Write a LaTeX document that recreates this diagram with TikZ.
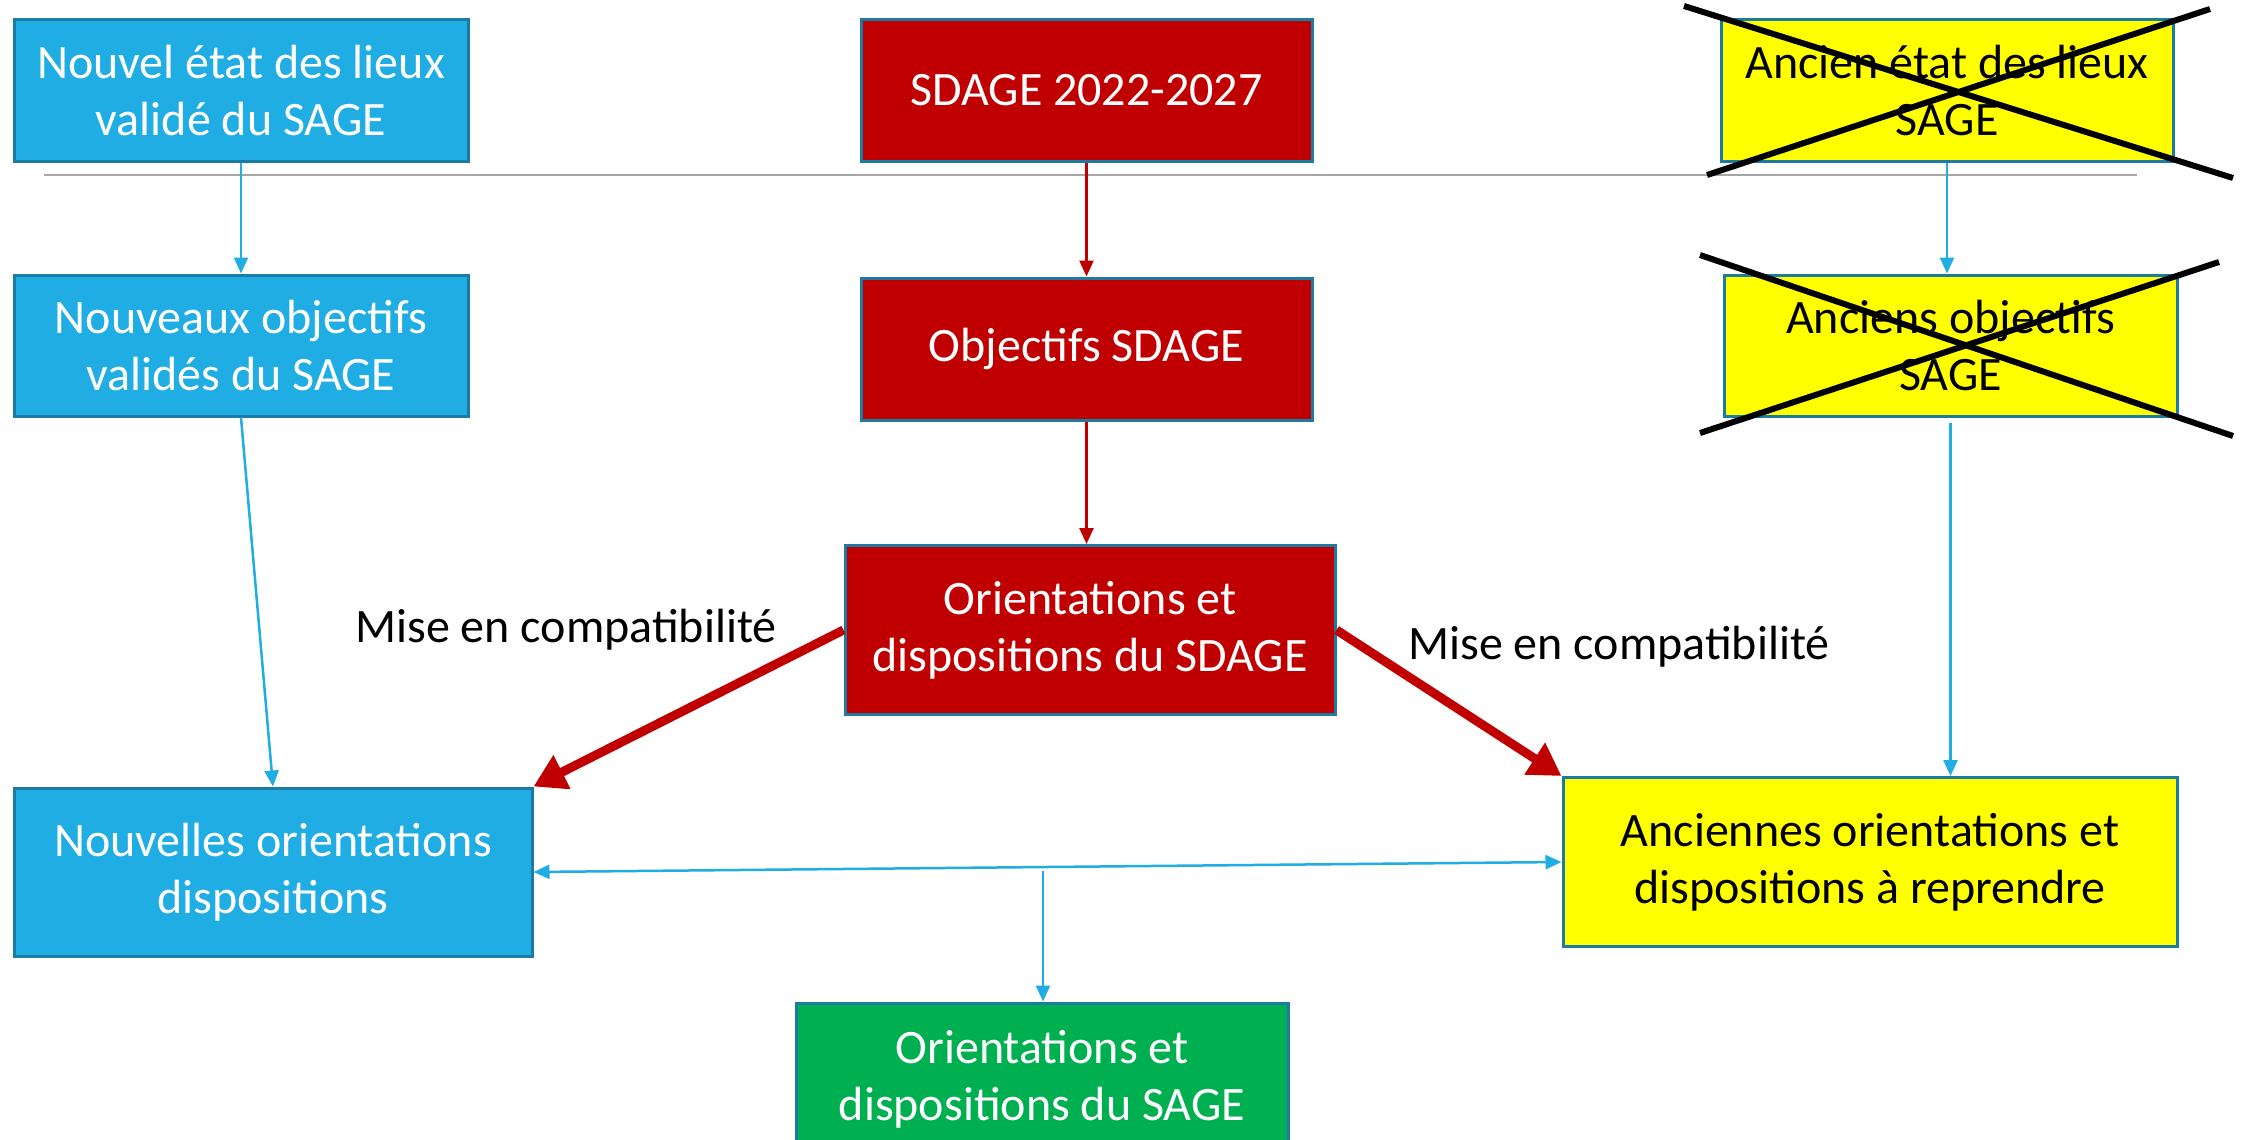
\documentclass[tikz,border=0pt]{standalone}
\usepackage{fontspec}
\setmainfont{Carlito}
\usetikzlibrary{arrows.meta,calc}
\definecolor{cblue}{HTML}{1FADE4}
\definecolor{cedge}{HTML}{1B7BA5}
\definecolor{cred}{HTML}{C00000}
\definecolor{cyel}{HTML}{FFFF00}
\definecolor{cgreen}{HTML}{00B050}
\definecolor{cgrey}{HTML}{A6A6A6}
\begin{document}
\begin{tikzpicture}[x=1pt,y=-1pt,
  box/.style={draw=cedge,line width=3pt,rectangle,inner sep=0pt,align=center,
    font=\fontsize{48}{57}\selectfont},
  bluebox/.style={box,fill=cblue,text=white},
  redbox/.style={box,fill=cred,text=white},
  yelbox/.style={box,fill=cyel,text=black},
  greenbox/.style={box,fill=cgreen,text=white},
  lbl/.style={font=\fontsize{48}{57}\selectfont,text=black,inner sep=0pt},
  thinblue/.style={draw=cblue,line width=2.5pt,-{Triangle[length=16pt,width=14pt]}},
  thinred/.style={draw=cred,line width=2.5pt,-{Triangle[length=16pt,width=14pt]}},
  thickred/.style={draw=cred,line width=9pt,-{Triangle[length=32pt,width=36pt]}},
  crossline/.style={draw=black,line width=6pt}]
\useasboundingbox (0,0) rectangle (2249,1140);
\fill[white] (0,0) rectangle (2249,1140);

% grey separator
\draw[cgrey,line width=2pt] (44,175) -- (2137,175);

% boxes
\node[bluebox,minimum width=454pt,minimum height=141pt] (n1) at (241,90.5) {Nouvel état des lieux\\validé du SAGE};
\node[redbox,minimum width=451pt,minimum height=141pt] (n2) at (1086.5,90.5) {SDAGE 2022-2027};
\node[yelbox,minimum width=452pt,minimum height=141pt] (n3) at (1947,90.5) {Ancien état des lieux\\SAGE};
\node[bluebox,minimum width=454pt,minimum height=141pt] (n5) at (241,345.5) {Nouveaux objectifs\\validés du SAGE};
\node[redbox,minimum width=451pt,minimum height=142pt] (n6) at (1086.5,349) {Objectifs SDAGE};
\node[yelbox,minimum width=453pt,minimum height=141pt] (n7) at (1950.5,345.5) {Anciens objectifs\\SAGE};
\node[redbox,minimum width=490pt,minimum height=169pt] (n8) at (1090,630) {Orientations et\\dispositions du SDAGE};
\node[bluebox,minimum width=518pt,minimum height=168pt] (n9) at (273,872) {Nouvelles orientations\\dispositions};
\node[yelbox,minimum width=614pt,minimum height=169pt] (n10) at (1870,862) {Anciennes orientations et\\dispositions à reprendre};
\node[greenbox,minimum width=492pt,minimum height=152pt] (n11) at (1042,1079) {Orientations et\\dispositions du SAGE};

% labels
\node[lbl] (l1) at (566,630) {Mise en compatibilité};
\node[lbl] (l2) at (1619,647) {Mise en compatibilité};

% crosses
\draw[crossline] (1684,6) -- (2233,178);
\draw[crossline] (1707,175) -- (2210,9);
\draw[crossline] (1700,255) -- (2233,436);
\draw[crossline] (1700,433) -- (2219,262);

% connectors
\draw[thinblue] (n1.south) -- (n5.north);
\draw[thinred] (n2.south) -- (n6.north);
\draw[thinblue] (n3.south) -- (n3.south |- n7.north);
\draw[thinred] (n6.south) -- (n6.south |- n8.north);
\draw[thinblue] (n5.south) -- (n9.north);
\draw[thinblue] ($(n7.south)+(0,5)$) -- (n7.south |- n10.north);
\draw[thickred] (n8.west) -- (n9.north east);
\draw[thickred] (n8.east) -- (n10.north west);
\draw[draw=cblue,line width=2.5pt,{Triangle[length=16pt,width=14pt]}-{Triangle[length=16pt,width=14pt]}] (n9.east) -- (n10.west);
\coordinate (m) at (1043,871);
\draw[thinblue] (m) -- (m |- n11.north);
\end{tikzpicture}
\end{document}
